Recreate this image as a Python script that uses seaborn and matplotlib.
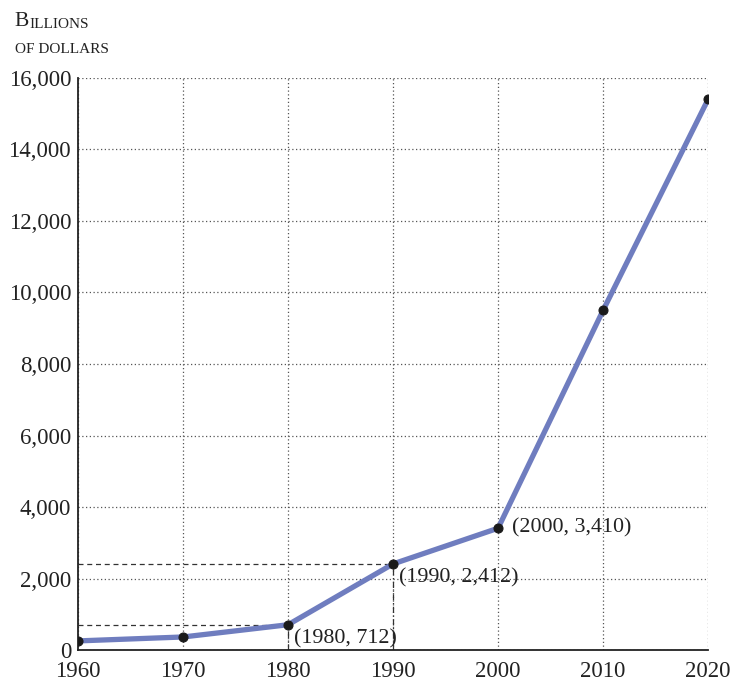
import pandas as pd
import matplotlib.pyplot as plt
import seaborn as sns

# data
years = [1960, 1970, 1980, 1990, 2000, 2010, 2020]
debt = [260, 370, 712, 2412, 3410, 9500, 15400]
labeled_years = [1980, 1990, 2000]
label_texts = ["(1980, 712)", "(1990, 2,412)", "(2000, 3,410)"]
y_ticks = [0, 2000, 4000, 6000, 8000, 10000, 12000, 14000, 16000]

df = pd.DataFrame({"year": years, "debt": debt})

sns.set_style("white")
plt.rcParams["font.family"] = ["Liberation Serif", "DejaVu Serif"]

fig = plt.figure(figsize=(7.43, 6.83), dpi=100)
ax = fig.add_axes([0.105, 0.048, 0.848, 0.838])

# grid
ax.set_xticks(years)
ax.set_yticks(y_ticks)
ax.grid(True, linestyle=(0, (1, 2)), color="#555555", linewidth=0.9)
ax.set_axisbelow(True)

# dashed helper lines to labeled points
for yr in [1980, 1990]:
    v = debt[years.index(yr)]
    ax.plot([years[0], yr], [v, v], linestyle=(0, (4, 3)), color="#333333", linewidth=0.9, zorder=2)
    ax.plot([yr, yr], [0, v], linestyle=(0, (5, 2, 1, 2)), color="#333333", linewidth=0.9, zorder=2)

sns.lineplot(data=df, x="year", y="debt", ax=ax, color="#6f7dbf", linewidth=3.8,
             marker="o", markersize=6.5, markerfacecolor="#1a1a1a",
             markeredgecolor="#1a1a1a", zorder=3)

offsets = {1980: (4, -10), 1990: (4, -10), 2000: (10, 0)}
for yr, txt in zip(labeled_years, label_texts):
    v = debt[years.index(yr)]
    dx, dy = offsets[yr]
    ax.annotate(txt, (yr, v), xytext=(dx, dy), textcoords="offset points",
                fontsize=15.8, ha="left", va="center", color="#222222")

ax.set_xlim(1960, 2020)
ax.set_ylim(0, 16000)
ax.yaxis.set_major_formatter(plt.FuncFormatter(lambda v, p: f"{int(v):,}"))
ax.tick_params(direction="in", length=9, width=1, colors="#222222", labelsize=16.5)
ax.tick_params(axis="x", pad=8)
ax.tick_params(axis="y", pad=5)
ax.set_xlabel("")
ax.set_ylabel("")

for s in ["top", "right"]:
    ax.spines[s].set_visible(False)
for s in ["left", "bottom"]:
    ax.spines[s].set_color("#222222")
    ax.spines[s].set_linewidth(1.3)

# small caps style axis title
t1 = fig.text(0.02, 0.962, "B", fontsize=15.5, color="#222222", va="baseline")
t2 = ax.annotate("ILLIONS", xy=(1, 0), xycoords=t1, fontsize=11, color="#222222", va="bottom")
fig.text(0.02, 0.922, "OF DOLLARS", fontsize=11, color="#222222", va="baseline")

plt.savefig("out.png", dpi=100)
